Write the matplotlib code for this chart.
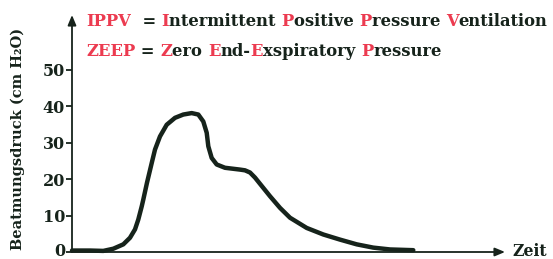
import matplotlib
matplotlib.use("Agg")
import matplotlib.pyplot as plt
import matplotlib.transforms as mtransforms

# data
zeit = [0, 4.16, 7.23, 9.54, 11.85, 13.39, 14.55, 15.31, 16.10, 16.47, 17.32, 18.41,
        19.17, 20.32, 21.87, 23.79, 25.70, 27.64, 29.17, 30.32, 31.11, 31.48, 32.26,
        33.42, 35.33, 38.80, 39.95, 41.11, 42.27, 43.42, 45.73, 48.04, 50.35, 54.20,
        58.04, 61.89, 65.75, 69.58, 73.44, 78.82]
druck = [0.4, 0.4, 0.3, 0.9, 2.1, 3.9, 6.2, 8.9, 12.5, 14.4, 19.0, 24.4,
         28.1, 31.7, 34.9, 36.8, 37.7, 38.1, 37.7, 35.8, 32.7, 29.0, 25.8,
         24.0, 23.1, 22.6, 22.4, 21.8, 20.4, 18.7, 15.3, 12.1, 9.4, 6.6,
         4.8, 3.4, 2.1, 1.2, 0.7, 0.5]
yticks = [0, 10, 20, 30, 40, 50]

line1 = [("IPPV", "r"), ("  = ", "k"), ("I", "r"), ("ntermittent ", "k"), ("P", "r"),
         ("ositive ", "k"), ("P", "r"), ("ressure ", "k"), ("V", "r"), ("entilation", "k")]
line2 = [("ZEEP", "r"), (" = ", "k"), ("Z", "r"), ("ero ", "k"), ("E", "r"), ("nd-", "k"),
         ("E", "r"), ("xspiratory ", "k"), ("P", "r"), ("ressure", "k")]

RED = "#ec3b50"
INK = "#16231b"
FONT = ["DejaVu Serif", "DejaVu Sans"]

W, H = 553, 259
fig = plt.figure(figsize=(W / 100, H / 100), dpi=100)
ax = fig.add_axes([72 / W, 7 / H, (505 - 72) / W, (252 - 15) / H])
ax.set_xlim(0, 100)
ax.set_ylim(0, 65)
for s in ax.spines.values():
    s.set_visible(False)

ax.plot(zeit, druck, color=INK, lw=3.2, solid_capstyle="round", solid_joinstyle="round",
        clip_on=False, zorder=3)

# axes arrows
ax.annotate("", xy=(1, 0), xytext=(0, 0), xycoords="axes fraction",
            arrowprops=dict(arrowstyle="-|>,head_length=0.6,head_width=0.25", color=INK, lw=1.3,
                            shrinkA=0, shrinkB=0))
ax.annotate("", xy=(0, 1), xytext=(0, 0), xycoords="axes fraction",
            arrowprops=dict(arrowstyle="-|>,head_length=0.6,head_width=0.25", color=INK, lw=1.3,
                            shrinkA=0, shrinkB=0))

ax.set_xticks([])
ax.set_yticks(yticks)
ax.set_yticklabels([str(v) for v in yticks], family=FONT, fontweight="bold", fontsize=11.5,
                   color=INK)
ax.tick_params(axis="y", direction="out", length=4, width=1.3, color=INK, pad=1)
lab0 = ax.get_yticklabels()[0]
lab0.set_transform(lab0.get_transform() + mtransforms.ScaledTranslation(0, 2.5 / 100, fig.dpi_scale_trans))

ax.text(1.018, 0.0, "Zeit", transform=ax.transAxes, ha="left", va="center",
        family=FONT, fontweight="bold", fontsize=11.3, color=INK)

fig.text(18 / W, 1 - 139 / H, "Beatmungsdruck (cm H\u2082O)", rotation=90, ha="center",
         va="center", family=FONT, fontweight="bold", fontsize=10.5, color=INK)

renderer = fig.canvas.get_renderer()


def colored_line(parts, x0, yc, size):
    x = x0
    for txt, c in parts:
        t = fig.text(x / W, 1 - yc / H, txt, ha="left", va="center", family=FONT,
                     fontweight="bold", fontsize=size, color=RED if c == "r" else INK)
        bb = t.get_window_extent(renderer)
        x += bb.width


colored_line(line1, 86, 21, 11.8)
colored_line(line2, 86, 52, 11.8)

fig.savefig("out.png", dpi=100)
